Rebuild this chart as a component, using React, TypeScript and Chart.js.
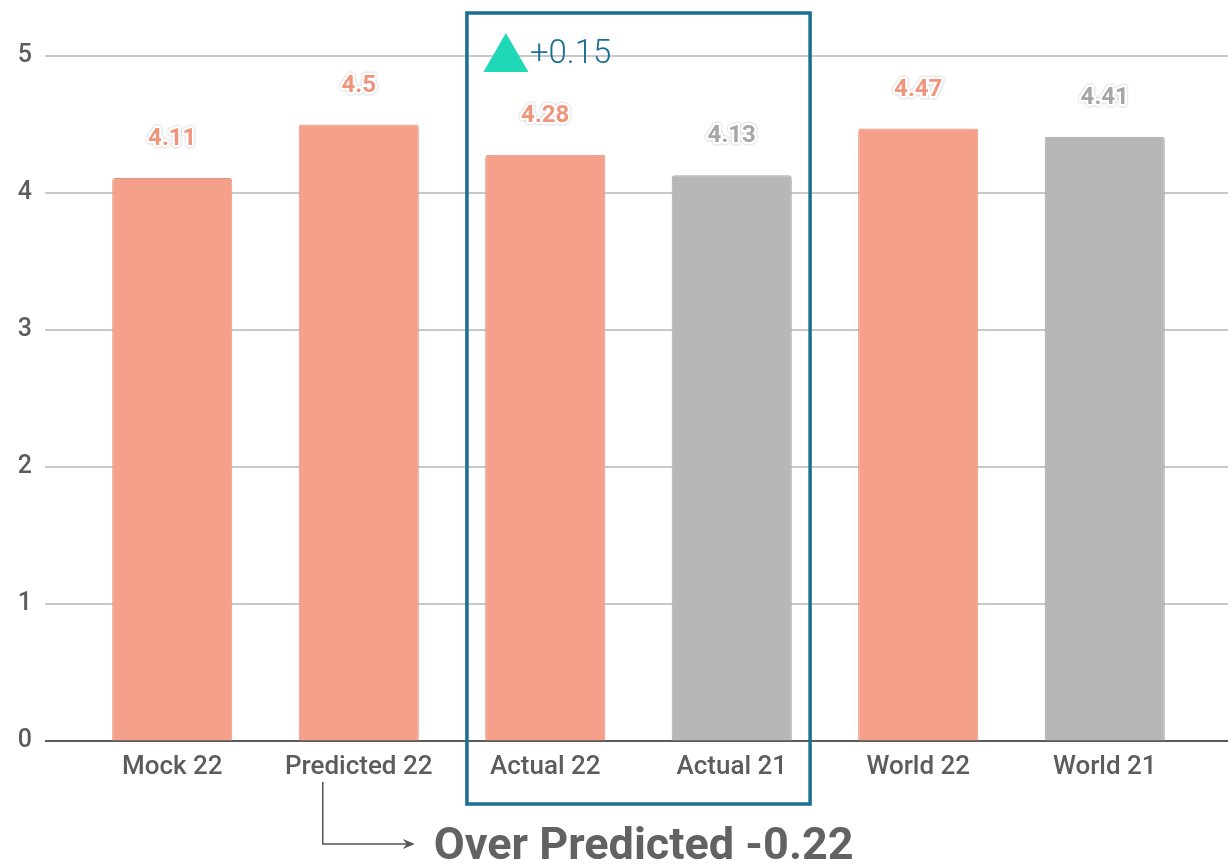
import React, { useEffect, useRef } from "react";
import { Chart, registerables } from "chart.js";

Chart.register(...registerables);

const categories = ["Mock 22", "Predicted 22", "Actual 22", "Actual 21", "World 22", "World 21"];
const values = [4.11, 4.5, 4.28, 4.13, 4.47, 4.41];
const years = ["22", "22", "22", "21", "22", "21"];
const yMin = 0;
const yMax = 5;
const yStep = 1;
const boxFrom = 2;
const boxTo = 3;
const changeLabel = "+0.15";
const noteFrom = 1;
const noteLabel = "Over Predicted -0.22";

const SALMON = "#f4a08a";
const GRAY = "#b7b7b7";
const SALMON_TXT = "#ef957c";
const GRAY_TXT = "#a6a6a6";
const FONT = "Roboto, 'Noto Sans', sans-serif";

const gridPlugin = {
  id: "customGrid",
  beforeDatasetsDraw(chart: any) {
    const { ctx, chartArea, scales } = chart;
    const y = scales.y;
    ctx.save();
    y.ticks.forEach((t: any) => {
      const py = Math.round(y.getPixelForValue(t.value));
      ctx.beginPath();
      ctx.lineWidth = 2;
      ctx.strokeStyle = t.value === 0 ? "#5a5a5a" : "#c8c8c8";
      ctx.moveTo(chartArea.left - 34, py);
      ctx.lineTo(chart.width, py);
      ctx.stroke();
    });
    ctx.restore();
  },
};

const overlayPlugin = {
  id: "overlay",
  afterDatasetsDraw(chart: any) {
    const { ctx, chartArea, scales } = chart;
    const x = scales.x;
    const y = scales.y;
    const meta = chart.getDatasetMeta(0);
    ctx.save();
    ctx.font = `bold 24px ${FONT}`;
    ctx.textAlign = "center";
    ctx.textBaseline = "middle";
    meta.data.forEach((bar: any, i: number) => {
      const ly = bar.y - 39;
      ctx.save();
      ctx.lineJoin = "round";
      ctx.shadowColor = "rgba(0,0,0,0.35)";
      ctx.shadowBlur = 2;
      ctx.strokeStyle = "#ffffff";
      ctx.lineWidth = 5;
      ctx.strokeText(String(values[i]), bar.x, ly);
      ctx.restore();
      ctx.fillStyle = years[i] === "22" ? SALMON_TXT : GRAY_TXT;
      ctx.fillText(String(values[i]), bar.x, ly);
    });

    const catW = x.getPixelForValue(1) - x.getPixelForValue(0);
    const bx0 = x.getPixelForValue(boxFrom) - 0.42 * catW;
    const bx1 = x.getPixelForValue(boxTo) + 0.42 * catW;
    const by0 = y.getPixelForValue(yMax) - 43;
    const by1 = chartArea.bottom + 63;
    ctx.strokeStyle = "#1b6f93";
    ctx.lineWidth = 3.5;
    ctx.strokeRect(bx0, by0, bx1 - bx0, by1 - by0);

    const tx = bx0 + 39;
    const ty = y.getPixelForValue(yMax);
    ctx.fillStyle = "#1fd8b7";
    ctx.beginPath();
    ctx.moveTo(tx, ty - 23);
    ctx.lineTo(tx + 22.5, ty + 16);
    ctx.lineTo(tx - 22.5, ty + 16);
    ctx.closePath();
    ctx.fill();
    ctx.fillStyle = "#1b6f93";
    ctx.font = `300 33px ${FONT}`;
    ctx.textAlign = "left";
    ctx.textBaseline = "alphabetic";
    ctx.fillText(changeLabel, tx + 24, ty + 7);

    const ax = x.getPixelForValue(noteFrom) - 36;
    const ay0 = chartArea.bottom + 41;
    const ay1 = chartArea.bottom + 103;
    const ax1 = ax + 90;
    ctx.strokeStyle = "#555555";
    ctx.lineWidth = 1.5;
    ctx.beginPath();
    ctx.moveTo(ax, ay0);
    ctx.lineTo(ax, ay1);
    ctx.lineTo(ax1, ay1);
    ctx.stroke();
    ctx.fillStyle = "#555555";
    ctx.beginPath();
    ctx.moveTo(ax1 + 2, ay1);
    ctx.lineTo(ax1 - 10, ay1 - 5);
    ctx.lineTo(ax1 - 6, ay1);
    ctx.lineTo(ax1 - 10, ay1 + 5);
    ctx.closePath();
    ctx.fill();
    ctx.fillStyle = "#626262";
    ctx.font = `bold 45px ${FONT}`;
    ctx.textAlign = "left";
    ctx.textBaseline = "alphabetic";
    ctx.fillText(noteLabel, ax1 + 21, chartArea.bottom + 118);
    ctx.restore();
  },
};

export default function App() {
  const ref = useRef<HTMLCanvasElement | null>(null);
  useEffect(() => {
    if (!ref.current) return;
    const chart = new Chart(ref.current, {
      type: "bar",
      data: {
        labels: categories,
        datasets: [
          {
            data: values,
            backgroundColor: years.map((yv) => (yv === "22" ? SALMON : GRAY)),
            borderColor: years.map((yv) => (yv === "22" ? "#e3937e" : "#a8a8a8")),
            borderWidth: 1,
            borderRadius: 3,
            borderSkipped: "bottom",
            categoryPercentage: 1,
            barPercentage: 0.644,
          },
        ],
      },
      options: {
        responsive: false,
        animation: false,
        layout: { padding: { top: 56, right: 30, left: 0, bottom: 0 } },
        plugins: { legend: { display: false }, tooltip: { enabled: false } },
        scales: {
          x: {
            grid: { display: false, drawTicks: false },
            border: { display: false },
            ticks: {
              color: "#5c5c5c",
              font: { family: FONT, size: 26, weight: "500" },
              padding: 11,
              maxRotation: 0,
              autoSkip: false,
            },
            afterFit: (s: any) => {
              s.height = 123;
            },
          },
          y: {
            min: yMin,
            max: yMax,
            grid: {
              display: true,
              drawOnChartArea: false,
              drawTicks: true,
              tickLength: 47,
              tickColor: "rgba(0,0,0,0)",
            },
            border: { display: false },
            ticks: {
              stepSize: yStep,
              color: "#5c5c5c",
              font: { family: FONT, size: 25, weight: "500" },
              padding: 0,
            },
            afterFit: (s: any) => {
              s.width = 79;
            },
          },
        },
      },
      plugins: [gridPlugin, overlayPlugin],
    });
    return () => chart.destroy();
  }, []);
  return (
    <div style={{ position: "absolute", left: 0, top: 0, width: 1228, height: 864, background: "#fff" }}>
      <canvas ref={ref} width={1228} height={864} style={{ display: "block" }} />
    </div>
  );
}
